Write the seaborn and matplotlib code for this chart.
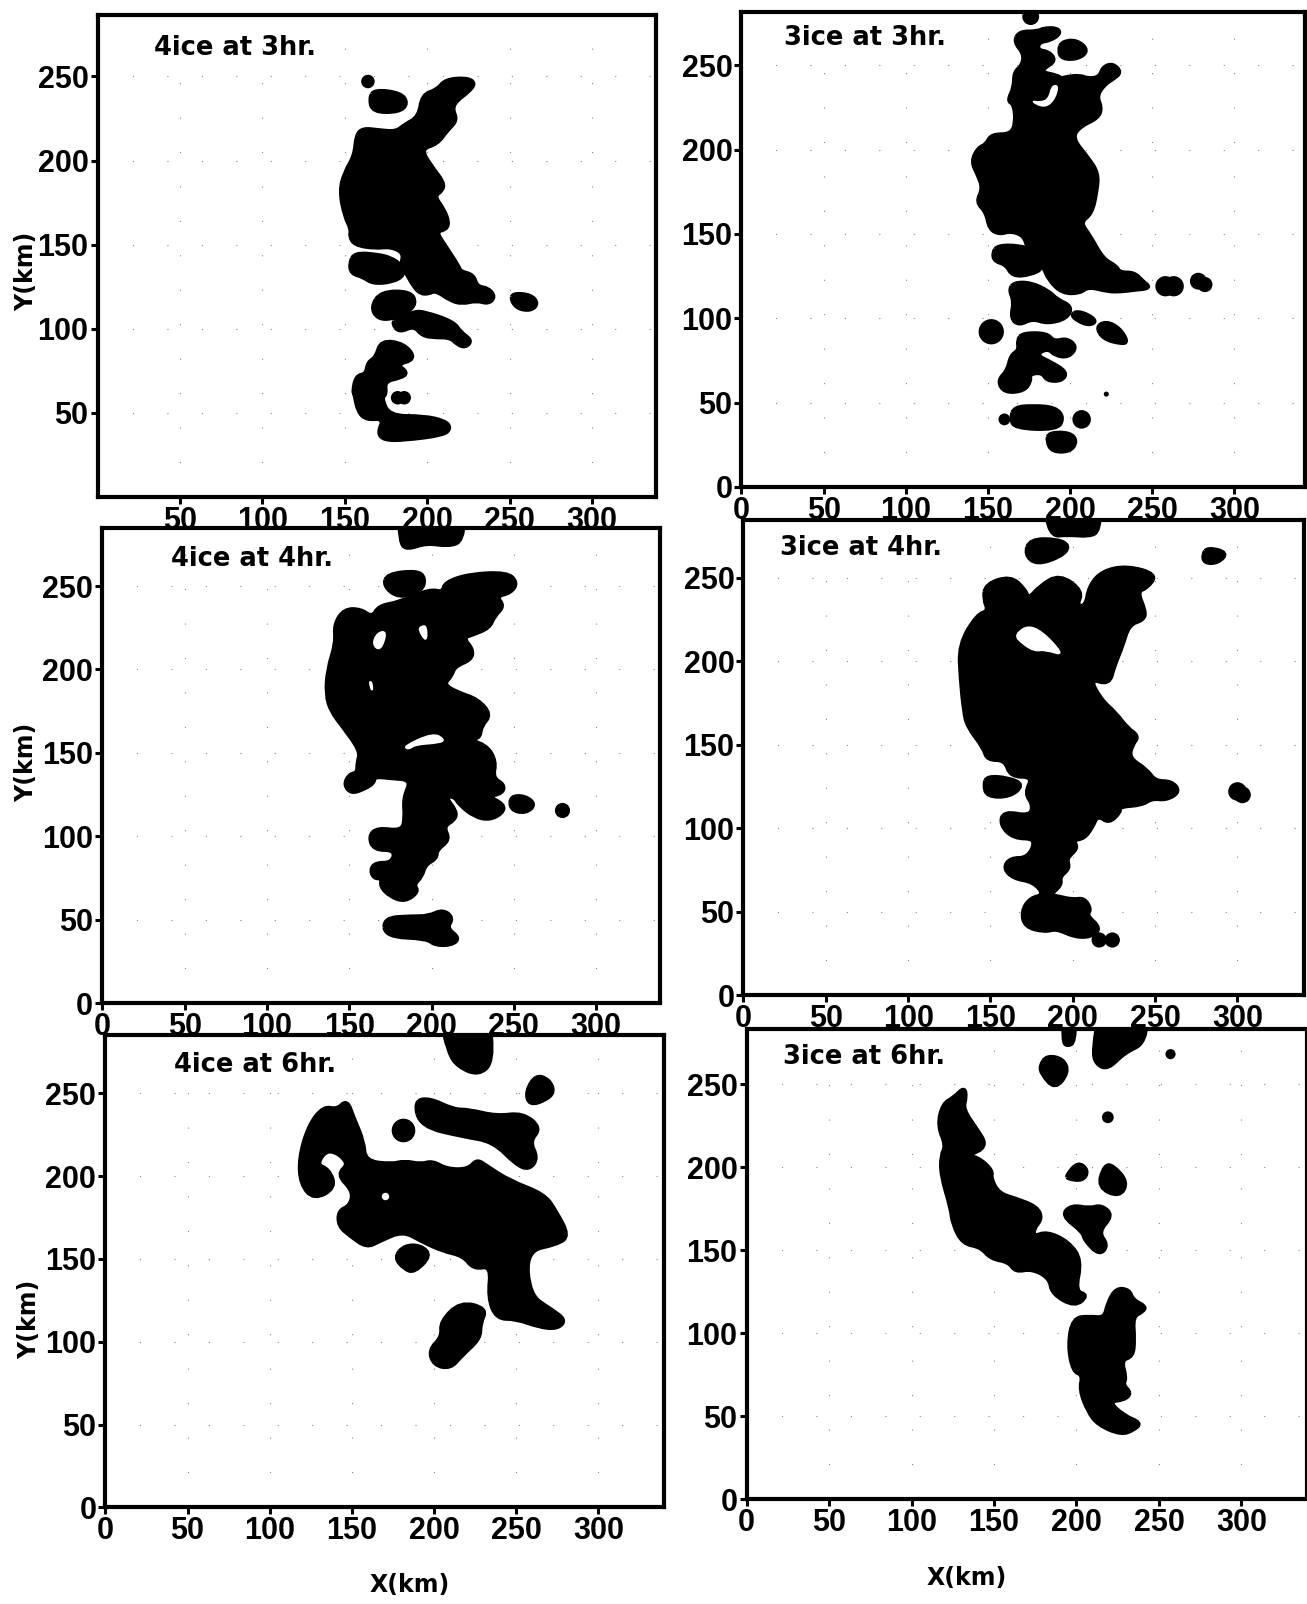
import pandas as pd
import seaborn as sns
import matplotlib
matplotlib.use("Agg")
import matplotlib.pyplot as plt
from matplotlib.path import Path
from matplotlib.patches import PathPatch

sns.set_theme(style="white")
plt.rcParams["font.family"] = ["Liberation Sans Narrow", "Liberation Sans", "DejaVu Sans"]

# Cloud outlines in km; round cells are (x, y, radius)
p1_out = [
 [(211,248),(224,249),(229,246),(225,241),(218,236),(215,231),(218,224),(212,218),(206,210),(196,207),(202,197),(210,187),(209,182),(204,179),(210,171),(213,163),(211,159),(205,158),(211,149),(219,137),(220,134),(228,132),(230,125),(237,124),(241,119),(237,115),(230,117),(221,115),(214,117),(205,123),(201,121),(196,121),(192,125),(188,132),(184,138),(186,145),(178,149),(168,148),(156,150),(153,155),(154,159),(150,167),(147,182),(150,193),(156,203),(157,215),(161,219),(170,218),(181,217),(186,221),(195,226),(197,239),(206,242)],
 [(156,145),(170,144),(178,142),(184,138),(186,132),(179,128),(167,127),(161,131),(154,133),(153,139)],
 [(172,122),(190,122),(193,115),(188,110),(179,106),(170,106),(166,113)],
 [(181,106),(192,110),(198,110),(216,104),(220,98),(227,93),(223,89),(218,91),(214,95),(205,95),(197,96),(192,102),(183,98),(179,103)],
 [(172,93),(186,91),(193,82),(181,79),(188,74),(184,71),(174,69),(175,61),(172,59),(177,48),(198,48),(211,45),(214,41),(210,37),(186,34),(174,34),(170,38),(174,47),(163,46),(158,51),(156,61),(155,63),(157,72),(163,73),(164,80),(169,83)],
 [(168,242),(184,240),(188,234),(183,229),(167,229),(165,237)],
 [(252,121),(263,120),(267,115),(263,111),(255,112),(251,117)],
]
p1_round = [(164,247,4),(182,59,4),(186,59,4)]

p2_out = [
 [(169,270),(180,270),(184,272),(192,272),(194,269),(188,265),(181,264),(180,259),(187,258),(191,253),(185,249),(182,246),(192,244),(195,242),(197,243),(206,244),(211,242),(218,243),(220,249),(226,251),(231,246),(226,242),(221,239),(216,232),(219,225),(217,219),(206,214),(201,207),(211,195),(217,186),(216,175),(213,162),(206,157),(212,149),(220,135),(228,131),(230,127),(239,127),(244,122),(249,118),(239,117),(231,116),(223,116),(211,119),(206,115),(195,115),(187,123),(184,130),(178,140),(174,142),(172,149),(164,152),(157,150),(151,153),(149,163),(143,169),(147,177),(144,185),(140,193),(144,201),(149,203),(152,209),(164,209),(167,216),(166,227),(162,229),(166,237),(166,246),(171,250),(172,257),(166,264)],
 [(156,143),(169,143),(178,140),(184,130),(176,126),(165,125),(161,132),(154,134),(153,139)],
 [(166,121),(176,121),(187,116),(192,111),(201,107),(198,100),(186,97),(177,100),(169,96),(164,100),(166,110),(163,117)],
 [(204,104),(211,102),(216,98),(211,96),(204,99),(201,102)],
 [(216,95),(222,98),(230,94),(235,86),(231,85),(220,88)],
 [(171,91),(186,91),(190,86),(198,88),(204,83),(199,77),(191,78),(187,82),(181,80),(181,77),(188,74),(198,68),(195,63),(186,63),(183,68),(175,67),(176,63),(172,57),(160,56),(156,63),(162,69),(164,78),(169,81),(168,87)],
 [(166,47),(177,48),(191,47),(196,41),(192,34),(166,35),(164,41)],
 [(187,32),(200,32),(204,27),(200,21),(189,21),(186,27)],
 [(195,264),(204,265),(211,259),(205,254),(195,254),(193,259)],
]
p2_round = [(176,279,5),(152,92,7.5),(222,55,1.5),(160,40,3.5),(207,40,5.5),(258,119,6),(263,119,6),(278,122,5),(282,120,4.5)]
p2_gap = [[(176,229),(184,225),(190,229),(193,238),(189,238),(187,230),(182,228)]]

p3_out = [
 [(180,300),(220,300),(219,277),(210,274),(197,276),(185,272),(181,276)],
 [(173,257),(191,259),(196,255),(194,247),(180,243),(171,250)],
 [(208,252),(223,257),(246,258),(252,252),(248,246),(239,244),(244,238),(238,232),(235,225),(225,221),(219,219),(225,212),(224,206),(214,202),(212,196),(207,191),(216,186),(228,182),(236,173),(230,166),(229,158),(217,159),(233,155),(239,145),(237,135),(244,131),(243,126),(234,124),(244,119),(243,114),(235,110),(226,112),(217,119),(214,124),(208,124),(215,115),(214,110),(207,106),(211,98),(203,92),(203,87),(196,83),(194,76),(189,71),(192,67),(184,61),(175,64),(169,70),(170,75),(165,75),(163,80),(166,84),(176,84),(178,92),(165,92),(162,100),(167,105),(182,103),(184,111),(183,123),(188,134),(175,135),(165,136),(165,132),(158,128),(151,126),(147,131),(150,137),(155,138),(155,144),(157,151),(146,166),(139,175),(136,185),(137,200),(142,216),(141,227),(147,236),(157,236),(164,231),(168,238),(180,240),(199,248),(207,246)],
 [(248,124),(257,124),(263,119),(257,114),(248,116)],
 [(171,51),(188,52),(198,52),(207,56),(213,51),(209,45),(217,39),(212,35),(202,35),(197,39),(172,40)],
]
p3_round = [(279,116,4.5)]
p3_gap = [[(167,222),(173,223),(169,211),(164,215)],[(194,226),(197,226),(197,216),(192,224)],[(162,193),(164,192),(164,186)],[(183,154),(201,162),(208,158),(205,156),(190,155),(186,152)]]

p4_out = [
 [(182,300),(217,300),(216,278),(210,275),(197,276),(186,275)],
 [(174,273),(191,273),(198,269),(193,263),(178,258),(171,264)],
 [(282,268),(294,265),(288,259),(280,259),(279,264)],
 [(147,246),(162,251),(171,243),(173,237),(180,245),(192,252),(206,242),(202,233),(208,233),(210,245),(218,254),(233,257),(251,252),(245,244),(239,242),(244,230),(243,225),(234,222),(230,209),(225,197),(222,186),(210,190),(217,177),(226,169),(233,160),(240,155),(236,150),(234,142),(245,135),(250,128),(260,128),(265,122),(257,117),(248,118),(242,114),(228,113),(229,110),(222,103),(215,108),(212,101),(207,94),(200,93),(203,88),(196,82),(198,76),(192,71),(193,66),(186,60),(191,59),(200,57),(207,58),(211,51),(208,48),(217,40),(211,35),(201,35),(190,40),(183,38),(171,41),(169,50),(174,58),(183,60),(176,68),(164,70),(158,76),(162,82),(173,82),(178,94),(164,94),(156,102),(158,110),(174,107),(176,114),(171,121),(176,131),(162,131),(159,141),(148,141),(146,148),(136,161),(134,170),(132,189),(131,210),(142,228),(149,230),(146,237)],
 [(148,131),(161,130),(170,126),(162,119),(148,119),(146,126)],
]
p4_round = [(216,33,4.5),(224,33,4.5),(300,122,5.5),(303,120,5)]
p4_gap = [[(164,216),(176,223),(196,203),(183,207),(177,206),(170,210)]]

p5_out = [
 [(203,300),(233,300),(236,269),(227,261),(215,266),(209,274)],
 [(262,261),(270,258),(273,251),(268,246),(258,243),(256,251)],
 [(188,245),(197,247),(212,240),(221,240),(238,236),(254,238),(265,229),(258,221),(263,211),(258,204),(250,207),(236,221),(218,224),(192,230)],
 [(147,246),(151,235),(157,221),(158,209),(174,207),(182,209),(192,207),(199,209),(208,204),(221,204),(226,210),(232,206),(246,197),(267,189),(274,179),(282,164),(275,159),(256,155),(258,128),(272,119),(280,113),(275,108),(264,109),(250,114),(238,114),(233,127),(235,146),(224,144),(218,152),(205,155),(192,161),(181,167),(167,161),(159,157),(149,164),(142,170),(142,179),(149,182),(151,191),(141,201),(149,208),(136,217.5),(128,207),(136,204),(140,193),(127,186),(119,195),(118,211),(124,231),(133,242),(141,240)],
 [(182,158),(192,158),(198,152),(188,142),(182,144),(176,151)],
 [(216,124),(232,120),(228,111),(228,102),(217,92),(210,84),(200,86),(197,95),(205,103),(204,112)],
]
p5_round = [(181,228,7)]
p5_gap_round = [(170,188,2.2)]

p6_out = [
 [(192,300),(199,300),(199,275),(194,273),(192,276)],
 [(215,300),(243,300),(242,275),(229,269),(219,259),(212,262),(210,270)],
 [(182,267),(192,265),(195,257),(187,247),(179,256),(178,261)],
 [(132,248),(133,242),(131,235),(140,222),(145,214),(140,209),(131,207),(140,206),(149,198),(148,193),(153,184),(163,181),(176,176),(179,169),(174,163),(174,158),(182,161),(195,155),(203,144),(199,125),(207,123),(199,116),(185,124),(184,133),(173,139),(163,137),(159,143),(148,145),(142,152),(131,154),(125,166),(124,175),(118,195),(118,207),(121,213),(116,225),(119,238),(126,242)],
 [(194,195),(201,203),(207,198),(204,192),(195,193)],
 [(217,201),(222,201),(231,191),(226,182),(213,188)],
 [(191,171),(197,177),(208,175),(215,177),(222,171),(213,161),(219,153),(214,147),(205,156),(204,161)],
 [(224,127),(232,126),(234,120),(242,116),(240,113),(234,110),(235,96),(234,86),(227,84),(230,73),(228,69),(233,64),(229,60),(219,59),(229,50),(239,46),(235,42),(227,39),(213,45),(207,53),(202,66),(204,75),(198,77),(195,93),(198,109),(208,110),(217,109),(219,118)],
]
p6_round = [(257,268,3),(219,230,3.5)]

x_ticks = [50, 100, 150, 200, 250, 300]
y_ticks = [50, 100, 150, 200, 250]
titles = ["4ice at 3hr.", "3ice at 3hr.", "4ice at 4hr.", "3ice at 4hr.", "4ice at 6hr.", "3ice at 6hr."]
outlines = [p1_out, p2_out, p3_out, p4_out, p5_out, p6_out]
rounds = [p1_round, p2_round, p3_round, p4_round, p5_round, p6_round]
gap_out = [[], p2_gap, p3_gap, p4_gap, [], []]
gap_round = [[], [], [], [], p5_gap_round, []]

W, H = 1307, 1604
S = 1307 / 1278
# left, right, top, bottom in the shrunk picture; x scale, y scale (px per km)
boxes = [(95.4, 641, 15, 486, 1.612, 1.645), (725, 1276, 12, 476, 1.607, 1.648), (100, 645, 516, 981, 1.61, 1.632),
         (727, 1275, 508, 973, 1.61, 1.632), (103, 649, 1012, 1474, 1.607, 1.62), (730, 1278, 1006, 1466, 1.613, 1.624)]
title_pos = [(34, 267), (26, 266), (42, 266), (22, 268), (42, 267), (22, 266)]
ylab_y = {0: 265, 2: 745, 4: 1290}
ylab_x = {0: 25, 2: 25, 4: 28}
xlab = {4: (401, 1550), 5: (945, 1543)}

fig = plt.figure(figsize=(W / 100, H / 100), dpi=100, facecolor="white")
k = (2 * 1.65 * 1.0227 * 0.72) ** 2


def draw_round(ax, cells, colour, z):
    df = pd.DataFrame(cells, columns=["x", "y", "r"])
    df["area"] = df["r"] ** 2
    sns.scatterplot(data=df, x="x", y="y", size="area", size_norm=(0, 100), sizes=(0, k * 100),
                    color=colour, linewidth=0, legend=False, ax=ax, zorder=z)


def draw_outline(ax, shapes, colour, z, lw):
    # the read vertices are used as curve controls, which gives the soft contour edge
    for v in shapes:
        n = len(v)
        mid = [((v[j][0] + v[(j + 1) % n][0]) / 2, (v[j][1] + v[(j + 1) % n][1]) / 2) for j in range(n)]
        verts = [mid[-1]]
        codes = [Path.MOVETO]
        for j in range(n):
            verts += [v[j], mid[j]]
            codes += [Path.CURVE3, Path.CURVE3]
        ax.add_patch(PathPatch(Path(verts, codes), facecolor=colour, edgecolor=colour, linewidth=lw,
                               joinstyle="round", zorder=z))


for i, (l, r, t, b, sx, sy) in enumerate(boxes):
    ax = fig.add_axes([l * S / W, 1 - b * S / H, (r - l) * S / W, (b - t) * S / H])
    draw_outline(ax, outlines[i], "black", 3, 3.2)
    draw_round(ax, rounds[i], "black", 3)
    draw_outline(ax, gap_out[i], "white", 4, 1.2)
    if gap_round[i]:
        draw_round(ax, gap_round[i], "white", 4)
    ax.set_xlim(0, (r - l) / sx)
    ax.set_ylim(0, (b - t) / sy)
    xt = x_ticks if i == 0 else [0] + x_ticks
    yt = y_ticks if i == 0 else [0] + y_ticks
    ax.set_xticks(xt)
    ax.set_yticks(yt)
    ax.tick_params(axis="both", length=5, width=2.2, color="black", labelcolor="black", labelsize=22, pad=1.5,
                   bottom=True, left=True)
    for lab in ax.get_xticklabels() + ax.get_yticklabels():
        lab.set_fontweight("bold")
    ax.grid(True, color="#888888", linewidth=0.8, linestyle=(0, (1, 30)))
    ax.set_axisbelow(True)
    for sp in ax.spines.values():
        sp.set_visible(True)
        sp.set_color("black")
        sp.set_linewidth(3)
    ax.text(*title_pos[i], titles[i], family="DejaVu Sans", fontweight="bold", fontsize=18.5, color="black",
            va="center", ha="left", zorder=6)
    ax.set_xlabel("")
    ax.set_ylabel("")
    if i in ylab_y:
        ax.set_ylabel("Y(km)", family="DejaVu Sans", fontweight="bold", fontsize=17, color="black")
        ax.yaxis.set_label_coords((ylab_x[i] + 12 - l) / (r - l), (b - ylab_y[i]) / (b - t))
    if i in xlab:
        ax.set_xlabel("X(km)", family="DejaVu Sans", fontweight="bold", fontsize=17, color="black")
        ax.xaxis.set_label_coords((xlab[i][0] - l) / (r - l), (b - xlab[i][1] + 12) / (b - t))

fig.savefig("out.png", dpi=100)
